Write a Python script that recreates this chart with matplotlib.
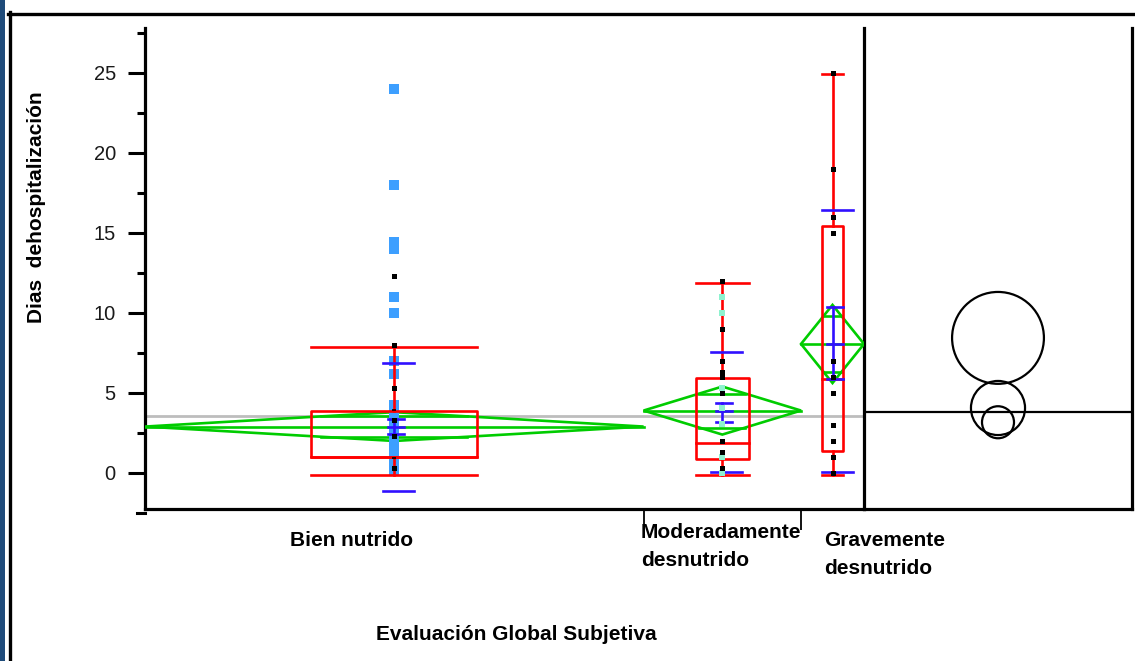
import matplotlib
matplotlib.use("Agg")
import matplotlib.pyplot as plt
import numpy as np
from matplotlib.lines import Line2D
from matplotlib.patches import Circle, Polygon, Rectangle

plt.rcParams['font.family'] = ['Liberation Sans', 'DejaVu Sans']

# ---------------- data ----------------
categories = ["Bien nutrido", "Moderadamente\ndesnutrido", "Gravemente\ndesnutrido"]
group_n = [95, 30, 12]                      # group sizes (x widths proportional)

# quantile (outlier) box plots
q1 = [1.0, 0.9, 1.4]
median = [1.0, 1.9, 5.9]
q3 = [3.9, 5.95, 15.4]
whisk_lo = [-0.1, -0.1, -0.1]
whisk_hi = [7.9, 11.9, 24.9]

# means diamonds
means = [2.9, 3.9, 8.06]
ci_half = [0.9, 1.5, 2.44]

# mean error bars (SE and SD)
se_hi = [3.35, 4.38, 10.4]
se_lo = [2.45, 3.19, 5.9]
sd_hi = [6.9, 7.56, 16.4]
sd_lo = [-1.1, 0.06, 0.06]

grand_mean = 3.56

# data points
bien_blue = [24, 18, 14.45, 14.0, 11, 10, 7.0, 6.2,
             4.25, 3.7, 3.25, 2.7, 2.2, 1.6, 1.1, 0.7, 0.2]
bien_black = [12.3, 8.0, 5.3, 3.3, 2.3, 0.3]
bien_dash = [3.94, 0.94]
mod_black = [12, 9, 7, 6.33, 6, 5, 2, 1.33, 0.3]
mod_aqua = [11, 10, 5.33, 4.08, 3.06, 1.0, 0.0]
grav_black = [25, 19, 16, 15, 7, 6, 5, 3, 2, 1, 0]

# comparison circles
circle_centers = [8.44, 4.06, 3.17]
circle_radii = [2.87, 1.69, 1.0]
circle_ref = 3.81

yticks_major = [0, 5, 10, 15, 20, 25]
yticks_minor = [2.5, 7.5, 12.5, 17.5, 22.5, 27.5]

# ---------------- layout ----------------
W, H = 1135, 661
fig = plt.figure(figsize=(W / 100, H / 100), dpi=100)
fig.patch.set_facecolor('white')

def fx(p):
    return p / W

def fy(p):
    return 1 - p / H

ax_left, ax_right, ax_top, ax_bot = 145, 864, 28, 509
ax2 = fig.add_axes([fx(ax_right), fy(ax_bot), (1132 - ax_right) / W, (ax_bot - ax_top) / H])
ax = fig.add_axes([fx(ax_left), fy(ax_bot), (ax_right - ax_left) / W, (ax_bot - ax_top) / H])
ax.patch.set_visible(False)
ax2.patch.set_visible(False)

YMIN, YMAX = -2.25, 27.8
edges = np.concatenate([[0], np.cumsum(group_n)])
centers = (edges[:-1] + edges[1:]) / 2
total = edges[-1]
px_per_unit = (ax_right - ax_left) / total

def pxu(p):
    return p / px_per_unit

RED = '#ff0000'
GREEN = '#00cc00'
BLUE = '#3010ff'
LBLUE = '#3d9fff'
AQUA = '#8ef2cf'
LW = 1.9

ax.set_xlim(0, total)
ax.set_ylim(YMIN, YMAX)

# grand mean line
ax.axhline(grand_mean, color='#bdbdbd', lw=2.0, zorder=1)

for i in range(3):
    c = centers[i]
    hw = group_n[i] / 2
    L, R = edges[i], edges[i + 1]
    m, ci = means[i], ci_half[i]
    # diamond
    ax.add_patch(Polygon([[L, m], [c, m + ci], [R, m], [c, m - ci]], closed=True,
                         fill=False, edgecolor=GREEN, lw=LW, zorder=3))
    ax.plot([L, R], [m, m], color=GREEN, lw=LW, zorder=3)
    d = ci / np.sqrt(2)
    ow = hw * (1 - 1 / np.sqrt(2))
    for s in (1, -1):
        ax.plot([c - ow, c + ow], [m + s * d, m + s * d], color=GREEN, lw=LW, zorder=3)

    # red box plot
    bw = group_n[i] / 3
    ax.add_patch(Rectangle((c - bw / 2, q1[i]), bw, q3[i] - q1[i], fill=False,
                           edgecolor=RED, lw=LW, zorder=4, joinstyle='round'))
    ax.plot([c - bw / 2, c + bw / 2], [median[i], median[i]], color=RED, lw=LW, zorder=4)
    ax.plot([c, c], [q3[i], whisk_hi[i]], color=RED, lw=LW, zorder=4)
    ax.plot([c, c], [q1[i], whisk_lo[i]], color=RED, lw=LW, zorder=4)
    for yv in (whisk_hi[i], whisk_lo[i]):
        ax.plot([c - bw / 2, c + bw / 2], [yv, yv], color=RED, lw=LW, zorder=4)

    # blue error bars
    for yv in (sd_hi[i], sd_lo[i]):
        ax.plot([c - pxu(11), c + pxu(20)], [yv, yv], color=BLUE, lw=LW, zorder=5)
    for yv in (se_hi[i], m, se_lo[i]):
        ax.plot([c - pxu(6), c + pxu(10)], [yv, yv], color=BLUE, lw=LW, zorder=5)
    ax.plot([c, c], [se_lo[i], se_hi[i]], color=BLUE, lw=LW, zorder=5)

# points
ax.plot([centers[0]] * len(bien_blue), bien_blue, 's', color=LBLUE, ms=7.9, mew=0, zorder=3.5)
ax.plot([centers[0]] * len(bien_black), bien_black, 's', color='black', ms=3.6, mew=0, zorder=6)
ax.plot([centers[0]] * len(bien_dash), bien_dash, '_', color='black', ms=3.5, mew=1.2, zorder=6)
ax.plot([centers[1]] * len(mod_aqua), mod_aqua, 's', color=AQUA, ms=3.8, mew=0, zorder=6)
ax.plot([centers[1]] * len(mod_black), mod_black, 's', color='black', ms=3.6, mew=0, zorder=6)
ax.plot([centers[2]] * len(grav_black), grav_black, 's', color='black', ms=3.6, mew=0, zorder=6)

# axes styling
ax.spines['top'].set_visible(False)
for sp in ('left', 'bottom', 'right'):
    ax.spines[sp].set_linewidth(2.3)
ax.set_yticks(yticks_major)
ax.set_yticks(yticks_minor, minor=True)
ax.set_yticklabels([str(v) for v in yticks_major])
ax.tick_params(axis='y', which='major', length=12, width=2.2, pad=9, labelsize=14.5,
               labelcolor='#1a1a1a', direction='out')
ax.tick_params(axis='y', which='minor', length=6, width=2.2, direction='out')
ax.set_xticks(edges[1:-1])
ax.tick_params(axis='x', which='major', length=15, width=1.3, labelbottom=False, direction='out')
ax.tick_params(axis='x', which='minor', length=0)
# extra minor tick below axis end
ax.add_line(Line2D([-8 / (ax_right - ax_left), 0], [-2.5, -2.5],
                   transform=ax.get_yaxis_transform(), color='black', lw=2.2, clip_on=False))

# comparison circles panel
ax2.set_ylim(YMIN, YMAX)
half_w = (1132 - ax_right) / 16.0 / 2
ax2.set_xlim(-half_w, half_w)
ax2.set_xticks([])
ax2.set_yticks([])
ax2.spines['top'].set_visible(False)
ax2.spines['left'].set_visible(False)
ax2.spines['right'].set_linewidth(2.3)
ax2.spines['bottom'].set_linewidth(2.3)
ax2.axhline(circle_ref, color='black', lw=1.6)
for cy, r in zip(circle_centers, circle_radii):
    ax2.add_patch(Circle((0, cy), r, fill=False, edgecolor='black', lw=1.6))

# labels
bold = dict(fontsize=15, fontweight='bold', color='black')
fig.text(fx(352), fy(541), categories[0], ha='center', va='center', **bold)
fig.text(fx(641), fy(546), categories[1], ha='left', va='center', linespacing=1.6, **bold)
fig.text(fx(824), fy(554), categories[2], ha='left', va='center', linespacing=1.6, **bold)
fig.text(fx(516), fy(634), "Evaluación Global Subjetiva", ha='center', va='center', **bold)
fig.text(fx(37), fy(207), "Dias  dehospitalización", ha='center', va='center', rotation=90, **bold)

# outer frame decoration
fig.add_artist(Rectangle((0, 0), fx(5), 1, transform=fig.transFigure, color='#1f4b7a', lw=0))
fig.add_artist(Line2D([fx(9.5), fx(9.5)], [0, fy(12)], transform=fig.transFigure, color='black', lw=2.4))
fig.add_artist(Line2D([fx(8), 1], [fy(13.5), fy(13.5)], transform=fig.transFigure, color='black', lw=2.4))

fig.savefig('out.png', dpi=100)
